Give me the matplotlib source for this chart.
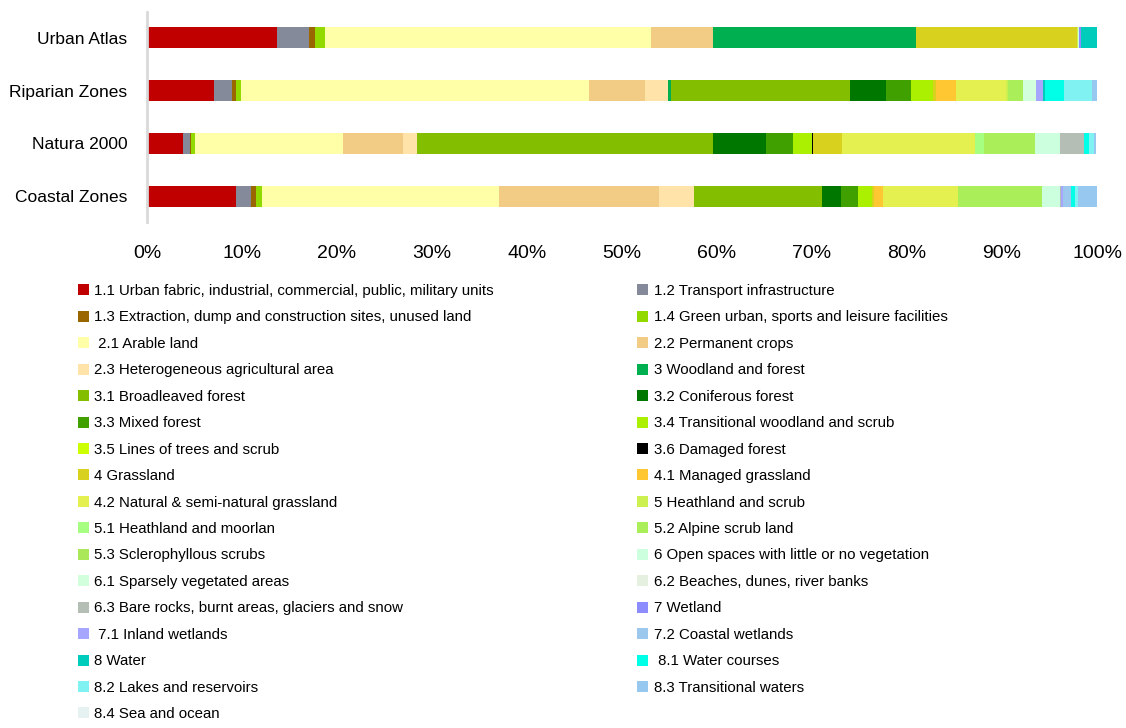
import numpy as np
import matplotlib
matplotlib.use("Agg")
import matplotlib.pyplot as plt
from matplotlib.patches import Patch

plt.rcParams['font.family'] = ['Liberation Sans', 'DejaVu Sans']

categories = ["Urban Atlas", "Riparian Zones", "Natura 2000", "Coastal Zones"]

labels = [
    "1.1 Urban fabric, industrial, commercial, public, military units",
    "1.2 Transport infrastructure",
    "1.3 Extraction, dump and construction sites, unused land",
    "1.4 Green urban, sports and leisure facilities",
    " 2.1 Arable land",
    "2.2 Permanent crops",
    "2.3 Heterogeneous agricultural area",
    "3 Woodland and forest",
    "3.1 Broadleaved forest",
    "3.2 Coniferous forest",
    "3.3 Mixed forest",
    "3.4 Transitional woodland and scrub",
    "3.5 Lines of trees and scrub",
    "3.6 Damaged forest",
    "4 Grassland",
    "4.1 Managed grassland",
    "4.2 Natural & semi-natural grassland",
    "5 Heathland and scrub",
    "5.1 Heathland and moorlan",
    "5.2 Alpine scrub land",
    "5.3 Sclerophyllous scrubs",
    "6 Open spaces with little or no vegetation",
    "6.1 Sparsely vegetated areas",
    "6.2 Beaches, dunes, river banks",
    "6.3 Bare rocks, burnt areas, glaciers and snow",
    "7 Wetland",
    " 7.1 Inland wetlands",
    "7.2 Coastal wetlands",
    "8 Water",
    " 8.1 Water courses",
    "8.2 Lakes and reservoirs",
    "8.3 Transitional waters",
    "8.4 Sea and ocean",
]

colors = [
    "#C00000", "#848A9A", "#996600", "#92D900", "#FFFFA8", "#F2CC84",
    "#FFE3A8", "#00B050", "#84BE00", "#007800", "#40A000", "#AAF000",
    "#CCFF00", "#000000", "#D8D21E", "#FFC832", "#E4F050", "#CCF050",
    "#A6FF80", "#AAEE5A", "#AAE85A", "#CCFFDD", "#D2FFDC", "#E6F0E0",
    "#B4BEB4", "#8C8CFF", "#A6A6FF", "#9CC8EE", "#00CCBB", "#00FFE6",
    "#80F2F2", "#96C8F0", "#E6F2F2",
]

# share (%) of each class, same order as labels
urban_atlas = [13.7, 3.4, 0.6, 1.05, 34.25, 6.6, 0, 21.3, 0, 0, 0, 0,
               0, 0, 16.95, 0, 0, 0.2, 0, 0, 0, 0.1, 0, 0,
               0, 0.15, 0, 0, 1.7, 0, 0, 0, 0]
riparian = [7.05, 1.85, 0.45, 0.5, 36.7, 5.85, 2.45, 0.3, 18.85, 3.8, 2.6, 2.35,
            0, 0, 0.35, 2.1, 5.2, 0.2, 0, 1.6, 0, 0, 1.4, 0,
            0, 0, 0.7, 0, 0.2, 2.0, 3.0, 0.45, 0]
natura = [3.8, 0.75, 0.1, 0.4, 15.6, 6.3, 1.5, 0, 31.1, 5.6, 2.85, 2.0,
          0, 0.08, 3.1, 0, 14.0, 0, 0.95, 5.35, 0, 2.6, 0, 0,
          2.6, 0, 0, 0, 0, 0.45, 0.6, 0.2, 0]
coastal = [9.35, 1.6, 0.5, 0.65, 24.9, 16.9, 3.7, 0, 13.5, 2.0, 1.7, 1.5,
           0, 0, 0.2, 0.95, 7.9, 0, 0, 8.85, 0, 1.9, 0, 0,
           0.15, 0, 0.15, 0.85, 0, 0.4, 0.35, 2.0, 0]

data = np.array([urban_atlas, riparian, natura, coastal])

fig = plt.figure(figsize=(11.26, 7.28), dpi=100)
ax = fig.add_axes([147 / 1126, 1 - 222.4 / 728, 950 / 1126, 210.8 / 728])

y = np.arange(len(categories))
left = np.zeros(len(categories))
for i in range(len(labels)):
    ax.barh(y, data[:, i], left=left, height=0.4, color=colors[i], linewidth=0)
    left += data[:, i]

ax.set_ylim(3.5, -0.5)
ax.set_xlim(0, 100)
ax.set_xticks(np.arange(0, 101, 10))
ax.set_xticklabels([f"{v}%" for v in range(0, 101, 10)])
ax.set_yticks(y)
ax.set_yticklabels(categories)
ax.tick_params(axis='x', length=0, pad=16, labelsize=14)
ax.tick_params(axis='y', length=0, pad=14, labelsize=12.5)
for s in ["top", "right", "bottom"]:
    ax.spines[s].set_visible(False)
ax.spines["left"].set_color("#D9D9D9")
ax.spines["left"].set_linewidth(2)

handles = [Patch(facecolor=c, edgecolor='none') for c in colors]
left_h = handles[0::2]
left_l = labels[0::2]
right_h = handles[1::2]
right_l = labels[1::2]

leg_kw = dict(frameon=False, fontsize=10.8, handlelength=0.75, handleheight=0.75,
              handletextpad=0.35, labelspacing=0.83, borderpad=0, borderaxespad=0,
              loc="upper left")
fig.legend(left_h, left_l, bbox_to_anchor=(78 / 1126, 1 - 284 / 728), **leg_kw)
fig.legend(right_h, right_l, bbox_to_anchor=(637 / 1126, 1 - 284 / 728), **leg_kw)

fig.savefig("out.png", dpi=100)
